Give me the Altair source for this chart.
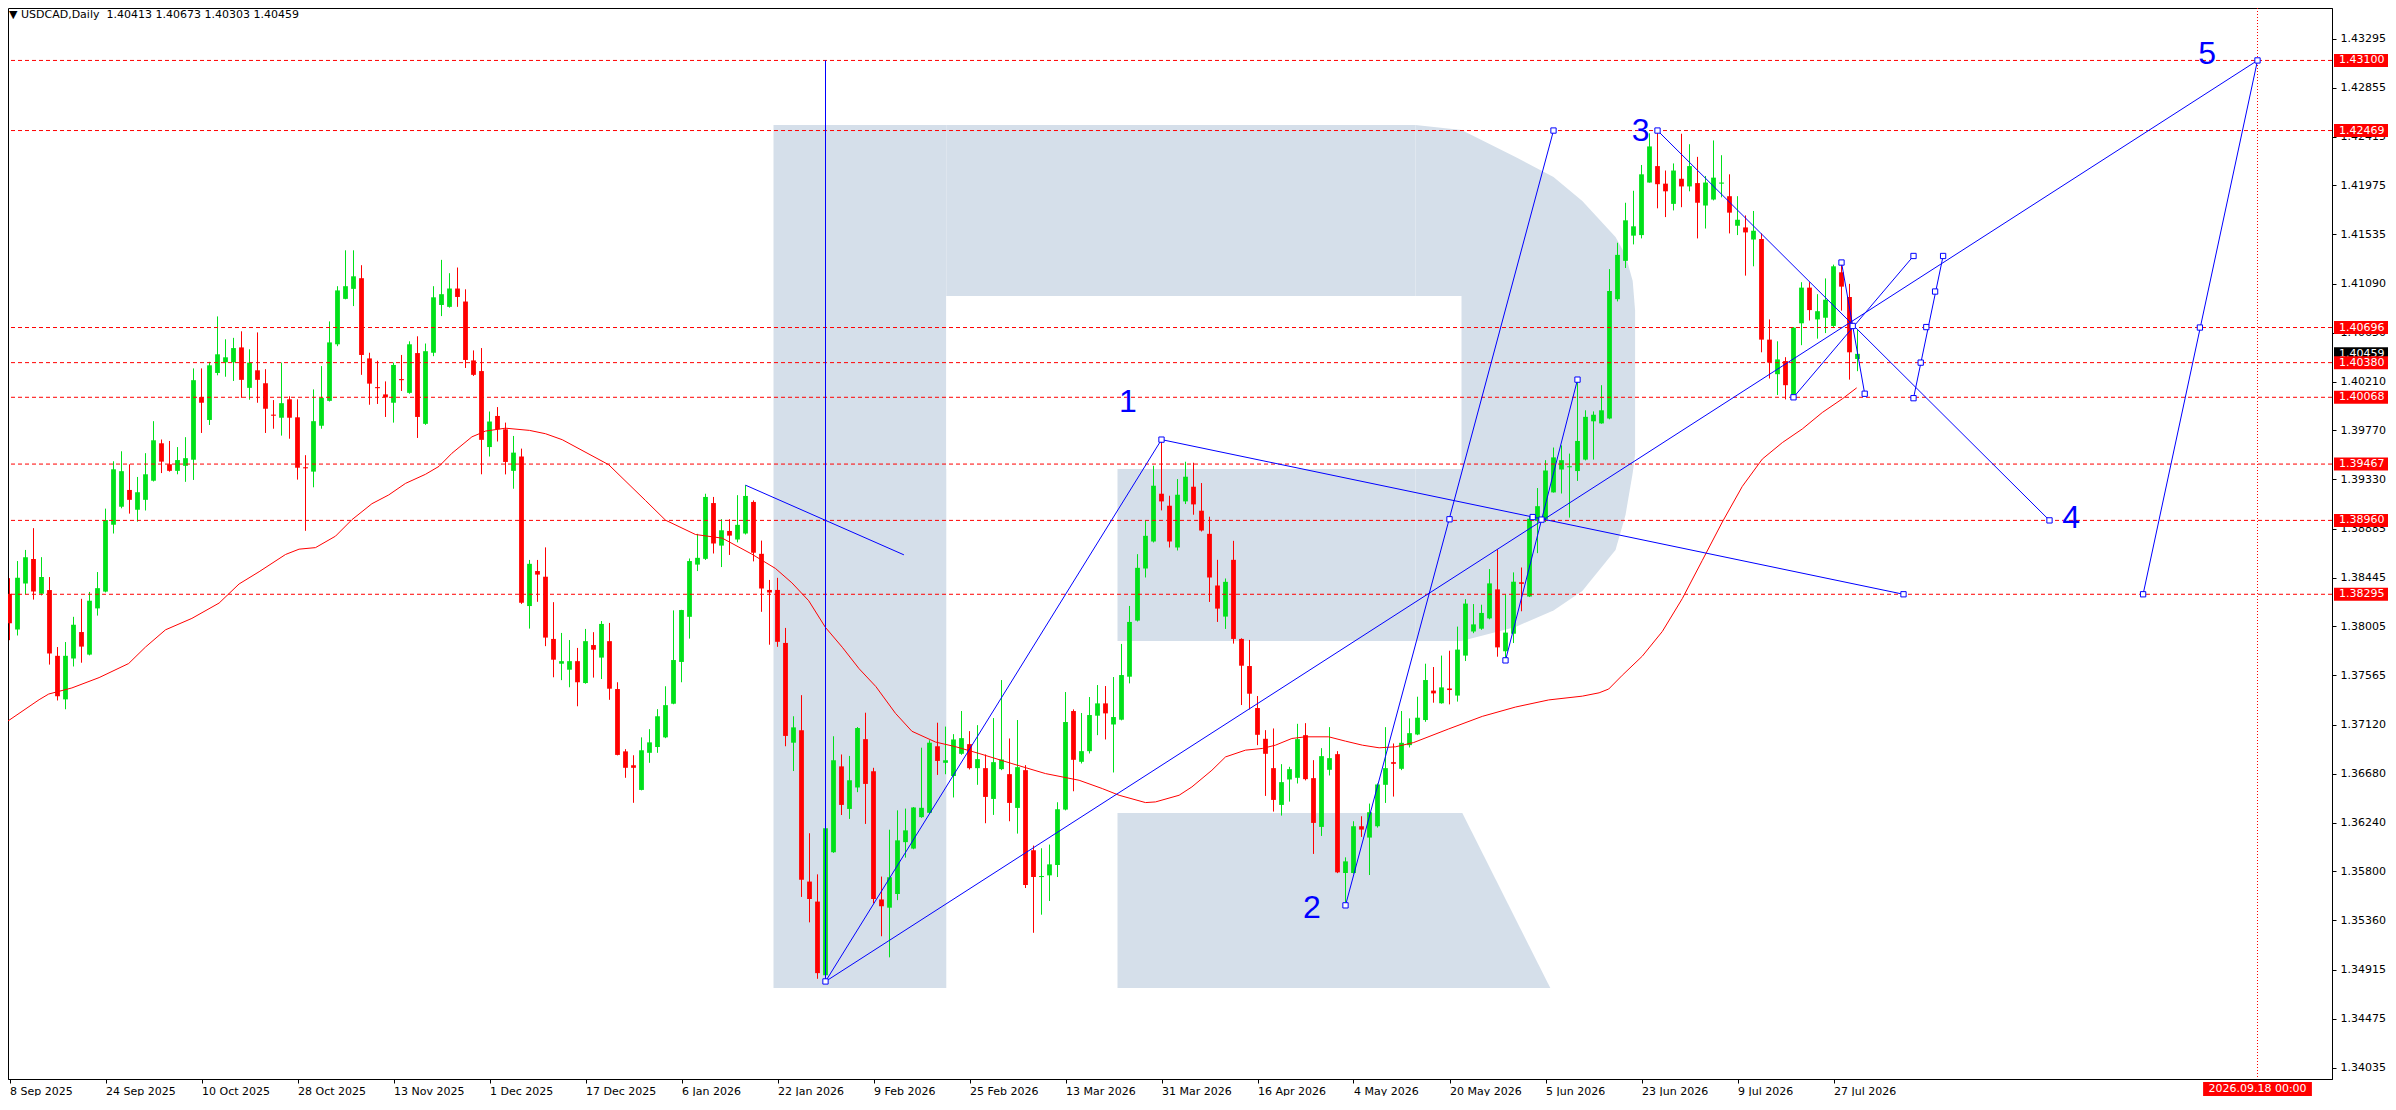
import altair as alt
import pandas as pd

# ---------------- data ----------------
OPEN = [
    1.38299, 1.37979, 1.38391, 1.38612, 1.38299, 1.38333, 1.37741, 1.37349, 1.37717, 1.37955,
    1.37752, 1.38168, 1.38319, 1.38921, 1.39083, 1.39234, 1.39055, 1.39145, 1.39317, 1.39654,
    1.39465, 1.39406, 1.39451, 1.39506, 1.40070, 1.39864, 1.40287, 1.40383, 1.40383, 1.40517,
    1.40153, 1.40311, 1.40194, 1.39912, 1.39884, 1.40050, 1.39888, 1.39437, 1.39399, 1.39812,
    1.40036, 1.40545, 1.40954, 1.41044, 1.41140, 1.40418, 1.40160, 1.40094, 1.40019, 1.40232,
    1.40108, 1.40466, 1.39829, 1.40469, 1.40899, 1.40882, 1.41047, 1.40930, 1.40400, 1.40304,
    1.39620, 1.39900, 1.39780, 1.39406, 1.39535, 1.38189, 1.38504, 1.38453, 1.37893, 1.37670,
    1.37616, 1.37693, 1.37496, 1.37838, 1.37725, 1.37873, 1.37442, 1.36881, 1.36756, 1.36534,
    1.36868, 1.36920, 1.37007, 1.37310, 1.37686, 1.38092, 1.38562, 1.38614, 1.39116, 1.38733,
    1.38865, 1.38788, 1.38842, 1.39126, 1.38659, 1.38334, 1.38334, 1.37857, 1.36959, 1.37071,
    1.35709, 1.35529, 1.34866, 1.35973, 1.36746, 1.36363, 1.36556, 1.36991, 1.36701, 1.35548,
    1.35474, 1.35597, 1.36064, 1.36006, 1.36289, 1.36328, 1.36927, 1.36778, 1.36659, 1.36859,
    1.36946, 1.36730, 1.36730, 1.36453, 1.36721, 1.36676, 1.36372, 1.36712, 1.35991, 1.35750,
    1.35765, 1.35858, 1.36357, 1.37244, 1.36787, 1.36883, 1.37202, 1.37313, 1.37123, 1.37166,
    1.37553, 1.38058, 1.38527, 1.38770, 1.39200, 1.39092, 1.38716, 1.39131, 1.39263, 1.39047,
    1.38839, 1.38374, 1.38094, 1.38605, 1.37893, 1.37649, 1.37271, 1.36994, 1.36730, 1.36399,
    1.36628, 1.36643, 1.37027, 1.36640, 1.36201, 1.36715, 1.36856, 1.35786, 1.35786, 1.36207,
    1.36105, 1.36207, 1.36580, 1.36784, 1.36724, 1.36937, 1.37033, 1.37163, 1.37428, 1.37314,
    1.37447, 1.37383, 1.37743, 1.37960, 1.37985, 1.38078, 1.38339, 1.37782, 1.37940, 1.38403,
    1.38275, 1.38955, 1.38970, 1.39212, 1.39418, 1.39438, 1.39404, 1.39507, 1.39852, 1.39833,
    1.39877, 1.40951, 1.41296, 1.41523, 1.41528, 1.42001, 1.42149, 1.41991, 1.41809, 1.42035,
    1.41966, 1.41996, 1.41794, 1.41848, 1.41991, 1.41878, 1.41612, 1.41597, 1.41488, 1.41493,
    1.40587, 1.40276, 1.40394, 1.40075, 1.40734, 1.41055, 1.40769, 1.40784, 1.40710, 1.41193,
    1.40971, 1.40413,
]
HIGH = [
    1.38440, 1.38594, 1.38694, 1.38890, 1.38629, 1.38450, 1.37820, 1.37865, 1.38092, 1.38254,
    1.38316, 1.38495, 1.39066, 1.39492, 1.39582, 1.39465, 1.39351, 1.39565, 1.39853, 1.39688,
    1.39675, 1.39620, 1.39709, 1.40328, 1.40328, 1.40387, 1.40796, 1.40590, 1.40603, 1.40662,
    1.40500, 1.40652, 1.40321, 1.40043, 1.40380, 1.40077, 1.40050, 1.39547, 1.40139, 1.40349,
    1.40751, 1.41068, 1.41391, 1.41391, 1.41257, 1.40469, 1.40397, 1.40211, 1.40380, 1.40449,
    1.40572, 1.40617, 1.40552, 1.41068, 1.41305, 1.41185, 1.41236, 1.41040, 1.40490, 1.40511,
    1.39940, 1.39980, 1.39840, 1.39720, 1.39606, 1.38604, 1.38604, 1.38717, 1.38224, 1.37947,
    1.37883, 1.37812, 1.37983, 1.37954, 1.38054, 1.38037, 1.37503, 1.36901, 1.36846, 1.37007,
    1.37081, 1.37261, 1.37467, 1.38150, 1.38155, 1.38617, 1.38839, 1.39200, 1.39171, 1.38971,
    1.38971, 1.39187, 1.39277, 1.39140, 1.38778, 1.38424, 1.38443, 1.37992, 1.37197, 1.37387,
    1.36144, 1.35774, 1.36200, 1.37017, 1.36853, 1.36840, 1.37100, 1.37229, 1.36733, 1.35754,
    1.36176, 1.36350, 1.36366, 1.36380, 1.36914, 1.36981, 1.37139, 1.37104, 1.37036, 1.37244,
    1.37063, 1.37117, 1.36853, 1.37181, 1.37523, 1.36997, 1.37163, 1.36757, 1.36033, 1.36009,
    1.36042, 1.36423, 1.37415, 1.37259, 1.37226, 1.37370, 1.37478, 1.37469, 1.37550, 1.37848,
    1.38190, 1.38656, 1.38957, 1.39452, 1.39687, 1.39182, 1.39332, 1.39488, 1.39479, 1.39296,
    1.38993, 1.38605, 1.38437, 1.38776, 1.37899, 1.37884, 1.37379, 1.37072, 1.37087, 1.36766,
    1.36742, 1.37129, 1.37135, 1.36802, 1.36910, 1.37099, 1.36883, 1.35927, 1.36252, 1.36297,
    1.36411, 1.36592, 1.37099, 1.36952, 1.37244, 1.37178, 1.37373, 1.37670, 1.37640, 1.37743,
    1.37787, 1.38004, 1.38251, 1.38207, 1.38201, 1.38522, 1.38699, 1.38295, 1.38492, 1.38536,
    1.39000, 1.39251, 1.39502, 1.39616, 1.39635, 1.39561, 1.40227, 1.39951, 1.39941, 1.40177,
    1.41222, 1.41459, 1.41819, 1.41927, 1.42159, 1.42444, 1.42469, 1.42109, 1.42173, 1.42440,
    1.42346, 1.42232, 1.42060, 1.42380, 1.42247, 1.42075, 1.41878, 1.41705, 1.41745, 1.41543,
    1.40769, 1.40572, 1.40429, 1.40700, 1.41104, 1.41104, 1.40996, 1.41138, 1.41262, 1.41281,
    1.41089, 1.40673,
]
LOW = [
    1.37882, 1.37924, 1.38295, 1.38247, 1.38285, 1.37662, 1.37339, 1.37260, 1.37645, 1.37679,
    1.37745, 1.38103, 1.38312, 1.38842, 1.39069, 1.39021, 1.38949, 1.39049, 1.39310, 1.39386,
    1.39399, 1.39375, 1.39307, 1.39324, 1.39747, 1.39819, 1.40266, 1.40253, 1.40215, 1.40063,
    1.40046, 1.40019, 1.39747, 1.39785, 1.39723, 1.39695, 1.39327, 1.38866, 1.39258, 1.39785,
    1.40030, 1.40528, 1.40950, 1.40889, 1.40270, 1.40001, 1.40008, 1.39891, 1.39840, 1.40125,
    1.40100, 1.39702, 1.39820, 1.40438, 1.40799, 1.40875, 1.40882, 1.40332, 1.40260, 1.39375,
    1.39535, 1.39670, 1.39374, 1.39245, 1.38208, 1.37986, 1.38227, 1.37828, 1.37548, 1.37522,
    1.37458, 1.37287, 1.37490, 1.37545, 1.37532, 1.37345, 1.36845, 1.36643, 1.36418, 1.36530,
    1.36778, 1.36868, 1.37000, 1.37305, 1.37503, 1.37896, 1.38504, 1.38604, 1.38662, 1.38540,
    1.38649, 1.38762, 1.38833, 1.38591, 1.38137, 1.37841, 1.37822, 1.36927, 1.36704, 1.35571,
    1.35342, 1.34834, 1.34810, 1.35967, 1.36308, 1.36273, 1.36514, 1.36228, 1.35513, 1.35217,
    1.35027, 1.35542, 1.35925, 1.36000, 1.36283, 1.36320, 1.36669, 1.36675, 1.36466, 1.36850,
    1.36718, 1.36580, 1.36234, 1.36309, 1.36712, 1.36252, 1.36141, 1.35651, 1.35248, 1.35411,
    1.35534, 1.35750, 1.36350, 1.36522, 1.36772, 1.36862, 1.37027, 1.36988, 1.36691, 1.37160,
    1.37493, 1.38050, 1.38446, 1.38761, 1.39050, 1.38716, 1.38689, 1.39107, 1.39011, 1.38860,
    1.38226, 1.38046, 1.37983, 1.37851, 1.37298, 1.37259, 1.36937, 1.36480, 1.36339, 1.36303,
    1.36429, 1.36592, 1.36620, 1.35958, 1.36120, 1.36664, 1.35785, 1.35495, 1.35780, 1.36111,
    1.35768, 1.36195, 1.36417, 1.36474, 1.36712, 1.36916, 1.37027, 1.37147, 1.37319, 1.37310,
    1.37304, 1.37329, 1.37694, 1.37945, 1.37975, 1.38070, 1.37733, 1.37704, 1.37856, 1.38142,
    1.38270, 1.38665, 1.38945, 1.39210, 1.39202, 1.38985, 1.39315, 1.39500, 1.39507, 1.39830,
    1.39870, 1.40931, 1.41232, 1.41444, 1.41498, 1.42000, 1.41769, 1.41690, 1.41750, 1.41779,
    1.41922, 1.41498, 1.41587, 1.41840, 1.41868, 1.41543, 1.41528, 1.41163, 1.41247, 1.40473,
    1.40237, 1.40089, 1.40049, 1.40068, 1.40537, 1.40759, 1.40596, 1.40646, 1.40700, 1.40848,
    1.40227, 1.40303,
]
CLOSE = [
    1.38034, 1.38443, 1.38629, 1.38319, 1.38450, 1.37762, 1.37377, 1.37741, 1.38020, 1.37824,
    1.38237, 1.38350, 1.38963, 1.39420, 1.39403, 1.39145, 1.39214, 1.39375, 1.39681, 1.39489,
    1.39406, 1.39503, 1.39520, 1.40222, 1.40019, 1.40356, 1.40455, 1.40428, 1.40511, 1.40225,
    1.40380, 1.40225, 1.39964, 1.39902, 1.40015, 1.39884, 1.39434, 1.39430, 1.39853, 1.40063,
    1.40562, 1.41030, 1.41068, 1.41157, 1.40449, 1.40191, 1.40150, 1.40067, 1.40359, 1.40222,
    1.40545, 1.39891, 1.40483, 1.40968, 1.40996, 1.41047, 1.40971, 1.40404, 1.40270, 1.39685,
    1.39850, 1.39780, 1.39486, 1.39570, 1.38218, 1.38569, 1.38472, 1.37905, 1.37706, 1.37693,
    1.37693, 1.37503, 1.37873, 1.37796, 1.38028, 1.37445, 1.36849, 1.36733, 1.36733, 1.36891,
    1.36962, 1.37197, 1.37297, 1.37703, 1.38153, 1.38594, 1.38623, 1.39171, 1.38752, 1.38871,
    1.38823, 1.38920, 1.39180, 1.38669, 1.38347, 1.38311, 1.37867, 1.37020, 1.37097, 1.35726,
    1.35552, 1.34885, 1.36189, 1.36801, 1.36399, 1.36621, 1.37091, 1.36588, 1.35552, 1.35487,
    1.35748, 1.36080, 1.36170, 1.36376, 1.36373, 1.36959, 1.36795, 1.36801, 1.36988, 1.37000,
    1.36730, 1.36811, 1.36471, 1.36784, 1.36808, 1.36417, 1.36739, 1.35678, 1.35750, 1.35759,
    1.35864, 1.36360, 1.37145, 1.36805, 1.36883, 1.37208, 1.37313, 1.37223, 1.37190, 1.37568,
    1.38046, 1.38533, 1.38821, 1.39272, 1.39131, 1.38770, 1.39191, 1.39353, 1.39104, 1.38869,
    1.38446, 1.38166, 1.38407, 1.37893, 1.37652, 1.37400, 1.37030, 1.36859, 1.36444, 1.36604,
    1.36721, 1.36991, 1.36631, 1.36237, 1.36838, 1.36820, 1.35792, 1.35891, 1.36207, 1.36177,
    1.36333, 1.36583, 1.36730, 1.36769, 1.36958, 1.37045, 1.37184, 1.37523, 1.37403, 1.37457,
    1.37433, 1.37797, 1.38211, 1.38024, 1.38127, 1.38393, 1.37817, 1.37950, 1.38408, 1.38389,
    1.38975, 1.39088, 1.39409, 1.39527, 1.39502, 1.39448, 1.39675, 1.39892, 1.39911, 1.39951,
    1.41025, 1.41350, 1.41661, 1.41607, 1.42075, 1.42326, 1.41986, 1.41922, 1.42109, 1.41966,
    1.42149, 1.41819, 1.42001, 1.42045, 1.42001, 1.41730, 1.41666, 1.41552, 1.41567, 1.40587,
    1.40380, 1.40409, 1.40177, 1.40695, 1.41055, 1.40853, 1.40843, 1.40946, 1.41247, 1.41064,
    1.40473, 1.40459,
]

# moving average read at points along the red curve (bar index, price)
MA_X = [-0.3, 3.7, 4.9, 7.8, 11.2, 14.9, 17, 19.5, 22.8, 26.2, 28.7, 31.2, 34.5, 36.2, 38.25,
        40.75, 42.8, 45.3, 47.4, 49.5, 52, 53.7, 55.3, 57.8, 59.5, 62, 65, 67, 69.1, 74.9, 79.5,
        82, 85.75, 89.1, 92.8, 95.75, 97.8, 99.9, 102, 104.1, 106.2, 108.3, 110.75, 112.8,
        115.75, 118.25, 121.2, 125.3, 129.5, 133.7, 136.6, 138.7, 142, 143.25, 146.2, 147.8,
        150.3, 152, 154.5, 156.6, 158.25, 160.3, 162, 164.9, 167, 169.1, 171.2, 173.25, 175.5,
        179.9, 184.1, 188.25, 192.4, 196.6, 198.7, 199.9, 201.6, 204.1, 206.6, 209.1, 211.6,
        214.1, 216.6, 219.1, 221.6, 224.1, 226.6, 229.1, 230.9]
MA_Y = [1.37149, 1.37346, 1.37397, 1.37452, 1.37545, 1.37672, 1.37820, 1.37975, 1.38078,
        1.38216, 1.38388, 1.38498, 1.38653, 1.38701, 1.38715, 1.38818, 1.38966, 1.39110,
        1.39189, 1.39293, 1.39375, 1.39447, 1.39564, 1.39712, 1.39764, 1.39790, 1.39770,
        1.39740, 1.39686, 1.39461, 1.39139, 1.38962, 1.38833, 1.38800, 1.38656, 1.38527,
        1.38398, 1.38237, 1.37996, 1.37818, 1.37625, 1.37464, 1.37223, 1.37062, 1.36965,
        1.36923, 1.36862, 1.36771, 1.36681, 1.36621, 1.36546, 1.36486, 1.36420, 1.36426,
        1.36486, 1.36561, 1.36711, 1.36831, 1.36892, 1.36907, 1.36937, 1.36997, 1.37012,
        1.37012, 1.36973, 1.36937, 1.36913, 1.36922, 1.36960, 1.37083, 1.37196, 1.37280,
        1.37344, 1.37378, 1.37408, 1.37442, 1.37566, 1.37738, 1.37960, 1.38256, 1.38600,
        1.38945, 1.39266, 1.39512, 1.39660, 1.39783, 1.39931, 1.40054, 1.40153]

LEVELS = [1.43100, 1.42469, 1.40696, 1.40380, 1.40068, 1.39467, 1.38960, 1.38295]
LAST_PRICE = 1.40459
PRICE_TICKS = [1.34035, 1.34475, 1.34915, 1.35360, 1.35800, 1.36240, 1.36680, 1.37120,
               1.37565, 1.38005, 1.38445, 1.38885, 1.39330, 1.39770, 1.40210, 1.40650,
               1.41090, 1.41535, 1.41975, 1.42415, 1.42855, 1.43295]
DATE_LABELS = ["8 Sep 2025", "24 Sep 2025", "10 Oct 2025", "28 Oct 2025", "13 Nov 2025",
               "1 Dec 2025", "17 Dec 2025", "6 Jan 2026", "22 Jan 2026", "9 Feb 2026",
               "25 Feb 2026", "13 Mar 2026", "31 Mar 2026", "16 Apr 2026", "4 May 2026",
               "20 May 2026", "5 Jun 2026", "23 Jun 2026", "9 Jul 2026", "27 Jul 2026"]
DATE_POS = [12 * k for k in range(len(DATE_LABELS))]
TITLE = "\u25bc USDCAD,Daily \u00a01.40413 1.40673 1.40303 1.40459"
VLINE_X = 281.0
VLINE_LABEL = "2026.09.18 00:00"

# wave annotation (bar index, price)
SEG_X1 = [102, 102, 144, 92, 102, 167, 187, 206, 223, 238, 229, 266.7]
SEG_Y1 = [1.3481, 1.3481, 1.39687, 1.39277, 1.3481, 1.35495, 1.3770, 1.42469, 1.40068, 1.4006, 1.41281, 1.38295]
SEG_X2 = [102, 144, 236.75, 111.8, 281.0, 193, 196, 255, 238, 241.7, 231.9, 281.0]
SEG_Y2 = [1.4310, 1.39687, 1.38295, 1.3865, 1.4310, 1.42469, 1.40227, 1.3896, 1.4134, 1.4134, 1.4010, 1.4310]
SQ_X = [102, 144, 236.75, 167, 193, 180, 187, 196, 190.4, 191.5, 206, 255, 223, 238, 238,
        238.9, 239.6, 240.7, 241.7, 229, 230.4, 231.9, 266.7, 273.8, 281.0]
SQ_Y = [1.3481, 1.39687, 1.38295, 1.35495, 1.42469, 1.3897, 1.3770, 1.40227, 1.3899, 1.38967,
        1.42469, 1.3896, 1.40068, 1.4134, 1.4006, 1.4038, 1.4070, 1.4102, 1.4134, 1.41281,
        1.4071, 1.4010, 1.38295, 1.40696, 1.4310]
WAVE_TXT = ["1", "2", "3", "4", "5"]
WAVE_X = [139.8, 162.8, 203.9, 257.7, 274.7]
WAVE_Y = [1.4003, 1.35472, 1.42465, 1.38983, 1.43155]

# watermark "R" outline (bar index, price)
LOGO_RECT_X1 = [95.5, 117.1, 138.5]
LOGO_RECT_X2 = [117.1, 175.75, 175.75]
LOGO_RECT_Y1 = [1.3475, 1.40980, 1.37875]
LOGO_RECT_Y2 = [1.42519, 1.42519, 1.39423]
BOWL_X = [175.75, 181.5, 188.25, 193.0, 196.6, 200.75, 202.0, 202.9, 203.2]
BOWL_TOP = [1.42519, 1.42474, 1.42231, 1.42050, 1.41835, 1.41511, 1.41349, 1.41115, 1.40850]
BOWL_BOT = [1.37875, 1.37875, 1.38001, 1.38150, 1.38325, 1.38694, 1.39009, 1.39387, 1.39550]
HOLE = [117.1, 181.5, 1.39423, 1.40980]
LEG_X = [138.5, 181.6, 192.6]
LEG_TOP = [1.36326, 1.36326, 1.3475]
LEG_BOT = [1.3475, 1.3475, 1.3475]

# ---------------- styling ----------------
GREEN = "#00e01a"
RED = "#ff0000"
BLUE = "#0000ff"
LOGO = "#d5dfea"
FONT = "DejaVu Sans"

W, H = 2324, 1071
XS = alt.Scale(domain=[-0.1875, 290.3125], nice=False, zero=False)
YS = alt.Scale(domain=[1.33932, 1.43572], nice=False, zero=False)

date_expr = "[" + ",".join("'%s'" % s for s in DATE_LABELS) + "][round(datum.value / 12)]"
x_axis = alt.Axis(values=DATE_POS, labelExpr=date_expr, orient="bottom", labelAlign="left",
                  labelBaseline="top", labelPadding=2, tickSize=4, labelFlush=False,
                  labelOverlap=False, title=None, grid=False, labelFont=FONT, labelFontSize=11,
                  labelColor="black", tickColor="black", domainColor="black")
y_axis = alt.Axis(values=PRICE_TICKS, labelExpr="format(datum.value, '.5f')", orient="right",
                  tickSize=4, labelPadding=4, labelFlush=False, labelOverlap=False, title=None,
                  grid=False, labelFont=FONT, labelFontSize=11, labelColor="black",
                  tickColor="black", domainColor="black")


def X(f):
    return alt.X(f, type="quantitative", scale=XS, axis=x_axis)


def Y(f):
    return alt.Y(f, type="quantitative", scale=YS, axis=y_axis)


# candles
cdf = pd.DataFrame({"i": list(range(len(OPEN))), "o": OPEN, "h": HIGH, "l": LOW, "c": CLOSE})
cdf["col"] = [GREEN if c >= o else RED for o, c in zip(cdf.o, cdf.c)]
bt = cdf[["o", "c"]].max(axis=1)
bb = cdf[["o", "c"]].min(axis=1)
mid = (bt + bb) / 2
small = (bt - bb) < 0.0001
cdf["bt"] = bt.where(~small, mid + 0.00005)
cdf["bb"] = bb.where(~small, mid - 0.00005)
cdf["x1"] = cdf.i - 0.3
cdf["x2"] = cdf.i + 0.3

# logo
logo_rects = alt.Chart(pd.DataFrame({"x1": LOGO_RECT_X1, "x2": LOGO_RECT_X2,
                                     "y1": LOGO_RECT_Y1, "y2": LOGO_RECT_Y2})).mark_rect(
    color=LOGO).encode(x=X("x1"), x2="x2", y=Y("y1"), y2="y2")
bowl = alt.Chart(pd.DataFrame({"x": BOWL_X, "t": BOWL_TOP, "b": BOWL_BOT})).mark_area(
    color=LOGO, opacity=1).encode(x=X("x"), y=Y("t"), y2="b")
hole = alt.Chart(pd.DataFrame({"x1": [HOLE[0]], "x2": [HOLE[1]], "y1": [HOLE[2]],
                               "y2": [HOLE[3]]})).mark_rect(color="white").encode(
    x=X("x1"), x2="x2", y=Y("y1"), y2="y2")
leg = alt.Chart(pd.DataFrame({"x": LEG_X, "t": LEG_TOP, "b": LEG_BOT})).mark_area(
    color=LOGO, opacity=1).encode(x=X("x"), y=Y("t"), y2="b")

wicks = alt.Chart(cdf).mark_rule(strokeWidth=1).encode(
    x=X("i"), y=Y("l"), y2="h", color=alt.Color("col:N", scale=None))
bodies = alt.Chart(cdf).mark_rect().encode(
    x=X("x1"), x2="x2", y=Y("bt"), y2="bb", color=alt.Color("col:N", scale=None))

ma = alt.Chart(pd.DataFrame({"x": MA_X, "y": MA_Y})).mark_line(
    color=RED, strokeWidth=1, clip=True).encode(x=X("x"), y=Y("y"))

levels = alt.Chart(pd.DataFrame({"y": LEVELS})).mark_rule(
    color=RED, strokeWidth=1, strokeDash=[4, 3]).encode(y=Y("y"))
vline = alt.Chart(pd.DataFrame({"x": [VLINE_X]})).mark_rule(
    color=RED, strokeWidth=1, strokeDash=[1, 2]).encode(x=X("x"))

segs = alt.Chart(pd.DataFrame({"x": SEG_X1, "y": SEG_Y1, "x2": SEG_X2, "y2": SEG_Y2})).mark_rule(
    color=BLUE, strokeWidth=1).encode(x=X("x"), y=Y("y"), x2="x2", y2="y2")
squares = alt.Chart(pd.DataFrame({"x": SQ_X, "y": SQ_Y})).mark_square(
    filled=True, fill="white", stroke=BLUE, strokeWidth=1, size=28, opacity=1).encode(
    x=X("x"), y=Y("y"))
waves = alt.Chart(pd.DataFrame({"x": WAVE_X, "y": WAVE_Y, "t": WAVE_TXT})).mark_text(
    color=BLUE, font="Liberation Sans", fontSize=32, align="center", baseline="middle").encode(
    x=X("x"), y=Y("y"), text="t:N")

title = alt.Chart(pd.DataFrame({"t": [TITLE]})).mark_text(
    align="left", baseline="middle", font=FONT, fontSize=11, color="black").encode(
    x=alt.value(1), y=alt.value(7), text="t:N")

half = 6.5 / 11110
# current-price box first, so the red level boxes sit on top of it as in the reference
box_df = pd.DataFrame({"y": [LAST_PRICE] + LEVELS,
                       "t": ["%.5f" % LAST_PRICE] + ["%.5f" % v for v in LEVELS],
                       "col": ["#000000"] + [RED] * len(LEVELS),
                       "k": list(range(len(LEVELS) + 1))})
box_df["y1"] = box_df.y - half
box_df["y2"] = box_df.y + half
boxes = alt.Chart(box_df).mark_rect().encode(
    x=alt.value(W + 2), x2=alt.value(W + 56), y=Y("y1"), y2="y2",
    color=alt.Color("col:N", scale=None), order=alt.Order("k:Q"))
box_txt = alt.Chart(box_df).mark_text(
    align="left", baseline="middle", font=FONT, fontSize=11, color="white").encode(
    x=alt.value(W + 7), y=Y("y"), text="t:N", order=alt.Order("k:Q"))
cur_box = alt.Chart(box_df.iloc[:1]).mark_rect(color="#000000").encode(
    x=alt.value(W + 2), x2=alt.value(W + 56), y=Y("y1"), y2="y2")
cur_txt = alt.Chart(box_df.iloc[:1]).mark_text(
    align="left", baseline="middle", font=FONT, fontSize=11, color="white").encode(
    x=alt.value(W + 7), y=Y("y"), text="t:N")
lvl_box = alt.Chart(box_df.iloc[1:]).mark_rect(color=RED).encode(
    x=alt.value(W + 2), x2=alt.value(W + 56), y=Y("y1"), y2="y2")
lvl_txt = alt.Chart(box_df.iloc[1:]).mark_text(
    align="left", baseline="middle", font=FONT, fontSize=11, color="white").encode(
    x=alt.value(W + 7), y=Y("y"), text="t:N")

tb = pd.DataFrame({"x1": [VLINE_X - 6.8], "x2": [VLINE_X + 6.8], "x": [VLINE_X], "t": [VLINE_LABEL]})
tbox = alt.Chart(tb).mark_rect(color=RED).encode(
    x=X("x1"), x2="x2", y=alt.value(H + 3), y2=alt.value(H + 17))
ttxt = alt.Chart(tb).mark_text(
    align="center", baseline="middle", font=FONT, fontSize=11, color="white").encode(
    x=X("x"), y=alt.value(H + 10), text="t:N")

chart = alt.layer(
    logo_rects, bowl, hole, leg, wicks, bodies, ma, levels, vline, segs, squares, waves,
    title, cur_box, cur_txt, lvl_box, lvl_txt, tbox, ttxt
).properties(
    width=W, height=H,
    autosize=alt.AutoSizeParams(type="none"),
    padding={"left": 0, "top": 0, "right": 56, "bottom": 17},
    background="white",
).configure_view(stroke="black", strokeWidth=1)

chart.save("out.html", embed_options={"renderer": "svg", "actions": False})
